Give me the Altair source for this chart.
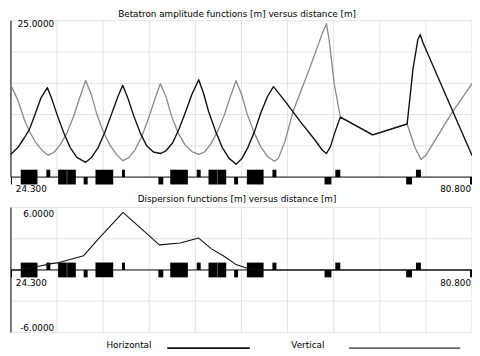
import altair as alt
import pandas as pd

S_RANGE = [24.3, 80.8]
BETA_RANGE = [0, 25]
DISP_RANGE = [-6, 6]

# Horizontal betatron function (black)
bx_s = [24.30, 25.14, 25.95, 26.55, 27.16, 27.95, 28.76, 29.36, 29.96, 30.77,
        31.56, 32.37, 33.46, 34.18, 34.99, 35.78, 36.59, 37.40, 38.00, 38.64,
        39.36, 40.14, 40.92, 41.77, 42.61, 43.33, 44.12, 44.90, 45.68, 46.47,
        47.31, 47.91, 48.51, 49.36, 50.20, 51.04, 51.89, 52.61, 53.33, 54.18,
        54.90, 55.74, 56.47, 57.91, 59.72, 61.53, 62.49, 62.97, 63.45, 64.06,
        64.66, 68.63, 72.85, 73.57, 74.17, 74.45, 74.78, 80.80]
bx = [3.66, 4.72, 6.29, 7.59, 9.70, 12.58, 14.31, 12.31, 9.95, 7.08,
      4.72, 3.14, 2.36, 3.14, 4.72, 7.08, 9.95, 12.85, 14.67, 12.58,
      9.75, 7.08, 5.03, 4.01, 3.77, 4.25, 5.50, 7.70, 10.38, 13.21,
      15.57, 13.36, 10.53, 7.39, 4.72, 2.99, 2.04, 2.99, 4.72, 7.39,
      10.22, 12.89, 14.47, 12.11, 8.96, 5.97, 4.25, 3.77, 4.87, 7.39,
      9.59, 6.76, 8.49, 17.30, 22.01, 22.80, 21.54, 3.46]

# Vertical betatron function (grey)
by_s = [24.30, 25.14, 25.95, 26.55, 27.35, 28.16, 28.84, 29.56, 30.36, 31.17,
        31.97, 32.77, 33.46, 34.18, 34.78, 35.59, 36.38, 37.19, 38.00, 38.72,
        39.52, 40.32, 41.13, 41.92, 42.61, 43.33, 43.94, 44.78, 45.62, 46.47,
        47.31, 48.03, 48.82, 49.60, 50.44, 51.23, 51.89, 52.61, 53.21, 54.06,
        54.90, 55.74, 56.59, 57.07, 57.91, 58.88, 60.92, 62.49, 62.97, 63.33,
        63.93, 64.66, 68.63, 72.85, 73.81, 74.54, 75.14, 78.15, 80.80]
by = [14.67, 12.31, 9.17, 7.34, 5.50, 4.20, 3.51, 3.93, 5.24, 7.08,
      9.70, 12.85, 15.46, 13.10, 10.22, 7.34, 5.24, 3.66, 2.63, 3.07,
      4.40, 6.45, 9.28, 12.42, 14.94, 12.74, 9.91, 7.08, 5.19, 4.09,
      3.62, 4.01, 5.35, 7.23, 9.91, 13.05, 15.41, 13.05, 10.22, 7.23,
      4.87, 3.30, 2.52, 2.99, 5.82, 10.53, 17.45, 23.11, 24.53, 21.54,
      14.78, 9.65, 6.76, 8.49, 4.72, 2.83, 3.46, 9.91, 14.94]

# Horizontal dispersion
d_s = [24.30, 25.50, 27.55, 29.24, 30.20, 33.21, 35.02, 38.03, 42.49, 45.02,
       47.31, 48.88, 50.32, 51.89, 53.33, 54.30, 80.80]
disp = [0, 0, 0.33, 0.61, 0.71, 1.37, 2.98, 5.53, 2.41, 2.60,
        3.07, 2.03, 1.37, 0.52, 0.14, 0, 0]

# Lattice elements (start, end in m)
dip_start = [25.50, 30.08, 34.66, 43.82, 48.51, 53.21]
dip_end = [27.55, 32.25, 36.83, 45.98, 50.68, 55.26]
dip_split = [31.17, 49.60]
qf_start = [28.64, 37.91, 47.07, 56.34, 64.05, 73.93]
qf_end = [29.12, 38.27, 47.55, 56.83, 64.66, 74.54]
qd_start = [24.30, 33.21, 42.37, 51.65, 62.73, 72.73, 80.56]
qd_end = [24.42, 33.70, 42.97, 52.13, 63.57, 73.45, 80.80]

x_grid = [24.30, 29.95, 35.60, 41.25, 46.90, 52.55, 58.20, 63.85, 69.50, 75.15, 80.80]
beta_grid = [5, 10, 15, 20, 25]
disp_grid = [-6, -3, 3, 6]

title_top = "Betatron amplitude functions [m] versus distance [m]"
title_bot = "Dispersion functions [m] versus distance [m]"
s_labels = ["24.300", "80.800"]
beta_label = "25.0000"
disp_labels = ["6.0000", "-6.0000"]
legend_names = ["Horizontal", "Vertical"]
legend_colors = ["#111111", "#6a6a6a"]

FONT = "DejaVu Sans"
FS = 9
GRID = "#e2e2e2"

X = alt.Scale(domain=S_RANGE, range=[3, 472], nice=False, zero=False)
YT = alt.Scale(domain=BETA_RANGE, range=[169, 10], nice=False, zero=False)
YB = alt.Scale(domain=DISP_RANGE, range=[327, 200], nice=False, zero=False)


def sx(f):
    return alt.X(f"{f}:Q", scale=X, axis=None)


def sy(f, sc):
    return alt.Y(f"{f}:Q", scale=sc, axis=None)


def panel_layers(sc, h, y_grid, lo, hi):
    layers = []
    vgrid = pd.DataFrame({"s": x_grid, "a": lo, "b": hi})
    layers.append(alt.Chart(vgrid).mark_rule(color=GRID, strokeWidth=1).encode(
        x=sx("s"), y=sy("b", sc), y2=alt.Y2("a:Q")))
    hgrid = pd.DataFrame({"v": y_grid, "s0": S_RANGE[0], "s1": S_RANGE[1]})
    layers.append(alt.Chart(hgrid).mark_rule(color=GRID, strokeWidth=1).encode(
        x=sx("s0"), x2=alt.X2("s1:Q"), y=sy("v", sc)))
    ax = pd.DataFrame({"s": [S_RANGE[0]], "a": [lo], "b": [hi]})
    layers.append(alt.Chart(ax).mark_rule(color="black", strokeWidth=1).encode(
        x=sx("s"), y=sy("b", sc), y2=alt.Y2("a:Q")))
    base = pd.DataFrame({"s0": [S_RANGE[0]], "s1": [S_RANGE[1]], "v": [0]})
    layers.append(alt.Chart(base).mark_rule(color="black", strokeWidth=1).encode(
        x=sx("s0"), x2=alt.X2("s1:Q"), y=sy("v", sc)))
    rows = []
    for a, b in zip(dip_start, dip_end):
        rows.append((a, b, -h, h))
    for a, b in zip(qf_start, qf_end):
        rows.append((a, b, 0, h))
    for a, b in zip(qd_start, qd_end):
        rows.append((a, b, -h, 0))
    el = pd.DataFrame(rows, columns=["s0", "s1", "y0", "y1"])
    layers.append(alt.Chart(el).mark_rect(color="black").encode(
        x=sx("s0"), x2=alt.X2("s1:Q"), y=sy("y1", sc), y2=alt.Y2("y0:Q")))
    sp = pd.DataFrame({"s": dip_split, "a": -h, "b": h})
    layers.append(alt.Chart(sp).mark_rule(color="#7a7a7a", strokeWidth=0.7).encode(
        x=sx("s"), y=sy("b", sc), y2=alt.Y2("a:Q")))
    return layers


def data_text(s, v, t, sc, align, dx, dy):
    df = pd.DataFrame({"s": [s], "v": [v], "t": [t]})
    return alt.Chart(df).mark_text(align=align, baseline="middle", dx=dx, dy=dy,
                                   font=FONT, fontSize=FS, color="black").encode(
        x=sx("s"), y=sy("v", sc), text="t:N")


def px_text(t, x, y, size=FS):
    df = pd.DataFrame({"t": [t]})
    return alt.Chart(df).mark_text(align="center", baseline="middle",
                                   font=FONT, fontSize=size, color="black").encode(
        x=alt.value(x), y=alt.value(y), text="t:N")


layers = []
layers += panel_layers(YT, 1.18, beta_grid, 0, 25)
layers += panel_layers(YB, 0.71, disp_grid, -6, 6)

# curves
gy = pd.DataFrame({"s": by_s, "v": by})
layers.append(alt.Chart(gy).mark_line(color="#888888", strokeWidth=1.3, strokeJoin="round").encode(
    x=sx("s"), y=sy("v", YT)))
gx = pd.DataFrame({"s": bx_s, "v": bx})
layers.append(alt.Chart(gx).mark_line(color="#111111", strokeWidth=1.4, strokeJoin="round").encode(
    x=sx("s"), y=sy("v", YT)))
gd = pd.DataFrame({"s": d_s, "v": disp})
layers.append(alt.Chart(gd).mark_line(color="#111111", strokeWidth=1.1, strokeJoin="round").encode(
    x=sx("s"), y=sy("v", YB)))

# axis labels
layers.append(data_text(S_RANGE[0], 25, beta_label, YT, "right", 44, 3.5))
layers.append(data_text(S_RANGE[0], 0, s_labels[0], YT, "left", 5, 12))
layers.append(data_text(S_RANGE[1], 0, s_labels[1], YT, "right", -1, 12))
layers.append(data_text(S_RANGE[0], 6, disp_labels[0], YB, "right", 44, 6.5))
layers.append(data_text(S_RANGE[0], -6, disp_labels[1], YB, "right", 44, -4))
layers.append(data_text(S_RANGE[0], 0, s_labels[0], YB, "left", 5, 13))
layers.append(data_text(S_RANGE[1], 0, s_labels[1], YB, "right", -1, 13))

# titles
layers.append(px_text(title_top, 233, 3))
layers.append(px_text(title_bot, 233, 191))

# legend
leg_pos = [(123, 162, 246), (305, 347, 460)]
for name, col, (tx, l0, l1) in zip(legend_names, legend_colors, leg_pos):
    layers.append(px_text(name, tx, 339.5))
    layers.append(alt.Chart(pd.DataFrame({"t": [name]})).mark_rule(color=col, strokeWidth=2).encode(
        x=alt.value(l0), x2=alt.value(l1), y=alt.value(343)))

chart = alt.layer(*layers).resolve_scale(y="independent").properties(
    width=472, height=348, padding=0,
    autosize=alt.AutoSizeParams(type="none"),
    background="white",
).configure_view(stroke=None)

chart.save("out.html", embed_options={"renderer": "svg", "actions": False})
